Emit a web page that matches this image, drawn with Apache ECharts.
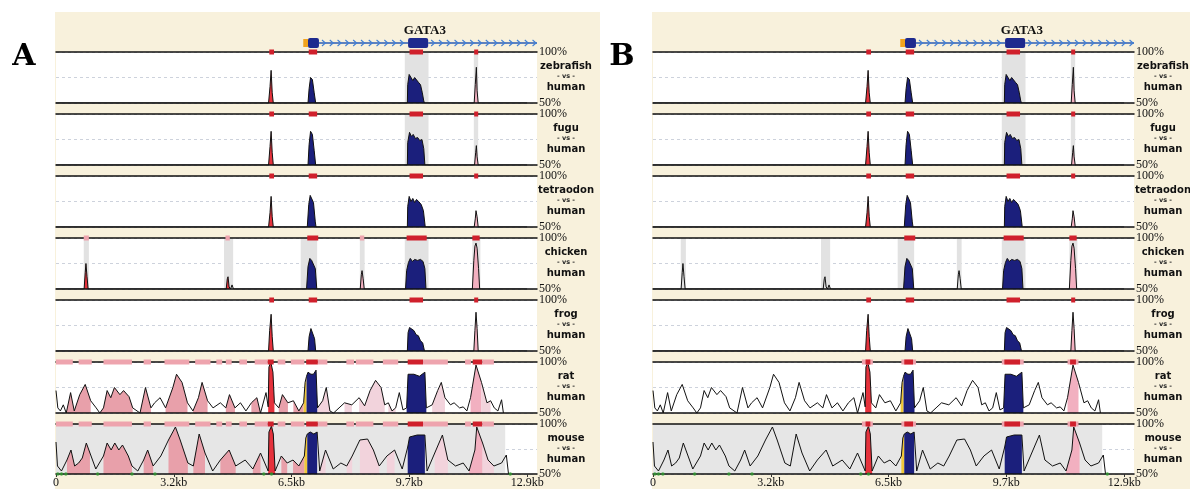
<!DOCTYPE html>
<html>
<head>
<meta charset="utf-8">
<script src="https://cdn.jsdelivr.net/npm/echarts/dist/echarts.min.js"></script>
<style>
html,body{margin:0;padding:0;background:#fff}
#main{width:1190px;height:489px}
</style>
</head>
<body>
<div id="main"></div>
<script>
// x in kb along the human GATA3 locus, y in % identity (50..100)
var KB_MAX = 13.17;
var TICK_KB = [0, 3.225, 6.45, 9.675, 12.9];
var TICK_LABELS = ['0', '3.2kb', '6.5kb', '9.7kb', '12.9kb'];
var SPECIES = ['zebrafish', 'fugu', 'tetraodon', 'chicken', 'frog', 'rat', 'mouse'];
var GENE_NAME = 'GATA3';
var GENE_LABEL_KB = 10.1;
// [from, to, kind] kind: 0 utr, 1 exon, 2 intron
var geneParts = [[6.77, 6.9, 0], [6.9, 7.2, 1], [7.2, 9.64, 2], [9.64, 10.19, 1], [10.19, KB_MAX, 2]];

var zebrafish = [[0,50],[5.82,50],[5.86,66],[5.89,82],[5.92,60],[5.95,50],
  [6.9,50],[6.93,64],[6.97,75],[7.02,73],[7.07,60],[7.11,50],
  [9.62,50],[9.63,68],[9.67,78],[9.72,77],[9.77,72],[9.82,75],[9.87,74],[9.93,70],[9.98,68],[10.03,60],[10.07,52],[10.09,50],
  [11.45,50],[11.48,68],[11.51,85],[11.53,62],[11.56,50],[12.9,50]];
var fugu = [[0,50],[5.82,50],[5.86,68],[5.89,83],[5.92,62],[5.95,50],
  [6.9,50],[6.93,70],[6.97,83],[7.02,80],[7.07,64],[7.11,50],
  [9.62,50],[9.63,72],[9.68,82],[9.73,78],[9.78,80],[9.84,76],[9.9,77],[9.96,74],[10.02,75],[10.07,66],[10.1,50],
  [11.46,50],[11.49,62],[11.51,69],[11.53,58],[11.56,50],[12.9,50]];
var tetraodon = [[0,50],[5.82,50],[5.86,64],[5.89,80],[5.92,60],[5.95,50],
  [6.88,50],[6.92,72],[6.96,81],[7.0,80],[7.05,74],[7.1,55],[7.12,50],
  [9.62,50],[9.63,70],[9.67,80],[9.72,75],[9.77,78],[9.82,74],[9.87,77],[9.93,75],[10.0,72],[10.06,66],[10.11,50],
  [11.45,50],[11.48,58],[11.5,66],[11.53,60],[11.56,50],[12.9,50]];
var chicken = [[0,50],[0.77,50],[0.8,66],[0.82,75],[0.85,62],[0.88,50],
  [4.66,50],[4.69,60],[4.71,62],[4.74,52],[4.78,50],[4.82,54],[4.86,50],
  [6.86,50],[6.9,72],[6.95,80],[7.0,78],[7.05,79],[7.1,70],[7.14,50],
  [8.33,50],[8.36,64],[8.38,68],[8.41,60],[8.44,50],
  [9.57,50],[9.6,68],[9.65,76],[9.7,80],[9.76,77],[9.82,79],[9.9,78],[9.98,79],[10.05,77],[10.1,70],[10.13,50],
  [11.4,50],[11.44,78],[11.47,92],[11.5,95],[11.53,90],[11.57,70],[11.6,50],[12.9,50]];
var frog = [[0,50],[5.82,50],[5.85,70],[5.89,86],[5.92,64],[5.95,50],
  [6.9,50],[6.93,64],[6.98,72],[7.03,73],[7.08,62],[7.11,50],
  [9.62,50],[9.64,68],[9.68,73],[9.73,72],[9.8,70],[9.86,66],[9.92,65],[9.98,60],[10.04,58],[10.09,50],
  [11.44,50],[11.47,70],[11.5,88],[11.53,72],[11.56,50],[12.9,50]];
var rat = [[0,72],[0.05,55],[0.12,52],[0.2,58],[0.28,50],[0.4,70],[0.5,52],[0.65,68],[0.8,78],[0.95,62],
  [1.1,55],[1.2,50],[1.3,55],[1.4,72],[1.5,65],[1.6,75],[1.75,68],[1.85,72],[2.0,66],[2.1,55],[2.3,50],
  [2.45,75],[2.6,55],[2.7,60],[2.85,65],[3.0,55],[3.2,75],[3.3,88],[3.45,80],[3.6,60],[3.75,52],[3.9,65],
  [4.0,80],[4.15,62],[4.3,55],[4.5,60],[4.65,55],[4.75,68],[4.9,55],[5.05,60],[5.2,52],[5.35,60],[5.5,65],
  [5.6,50],[5.75,70],[5.81,56],[5.83,95],[5.88,100],[5.94,90],[5.98,60],[6.1,55],[6.2,68],[6.35,60],
  [6.5,62],[6.65,52],[6.78,60],[6.82,80],[6.86,86],[6.9,90],[6.98,88],[7.05,88],[7.12,92],[7.16,55],
  [7.3,62],[7.4,75],[7.5,52],[7.6,50],[7.75,55],[7.9,60],[8.1,58],[8.3,65],[8.45,57],[8.6,72],[8.75,82],
  [8.9,75],[9.0,58],[9.1,60],[9.2,52],[9.3,55],[9.4,70],[9.5,53],[9.6,55],[9.64,88],[9.8,88],[9.95,86],
  [10.1,90],[10.14,55],[10.3,58],[10.45,72],[10.55,80],[10.65,65],[10.8,58],[10.9,60],[11.05,55],
  [11.15,56],[11.25,52],[11.35,65],[11.5,97],[11.65,80],[11.8,60],[11.9,62],[12.0,55],[12.1,52],
  [12.2,63],[12.25,50]];
var mouse = [[0,82],[0.04,58],[0.15,53],[0.3,64],[0.41,74],[0.51,58],[0.62,61],[0.72,66],[0.83,81],[0.93,71],
  [1.09,55],[1.3,68],[1.4,81],[1.51,74],[1.61,81],[1.72,74],[1.82,79],[1.98,68],[2.08,58],[2.24,53],
  [2.4,64],[2.51,74],[2.66,58],[2.87,68],[3.08,84],[3.27,97],[3.4,84],[3.61,61],[3.76,58],[3.92,90],
  [4.08,71],[4.29,53],[4.5,64],[4.74,74],[4.92,58],[5.18,64],[5.39,55],[5.6,71],[5.81,53],[5.83,92],
  [5.9,98],[5.95,90],[6.0,53],[6.17,68],[6.33,61],[6.49,64],[6.65,58],[6.8,68],[6.84,86],[6.88,90],
  [6.96,92],[7.06,90],[7.15,92],[7.22,53],[7.38,74],[7.59,55],[7.8,61],[7.96,58],[8.11,68],[8.32,84],
  [8.53,85],[8.69,74],[8.85,58],[9.06,68],[9.27,74],[9.48,55],[9.63,77],[9.68,87],[9.89,89],[10.1,89],
  [10.16,53],[10.37,71],[10.58,89],[10.73,64],[10.94,58],[11.15,61],[11.31,53],[11.47,74],[11.52,97],
  [11.68,81],[11.83,64],[11.99,58],[12.2,61],[12.33,69],[12.39,50]];
var mouseDots = [0.05, 0.15, 0.27, 1.14, 2.08, 2.71, 5.69, 5.9, 12.44];

// conserved regions: [kind, fromKb, toKb]
var fishFills = {
  zebrafish: [['red',5.82,5.95],['exon',6.9,7.11],['exon',9.62,10.09],['utr',11.45,11.56]],
  fugu: [['red',5.82,5.95],['exon',6.9,7.11],['exon',9.62,10.1],['utr',11.46,11.56]],
  tetraodon: [['red',5.82,5.95],['exon',6.88,7.12],['exon',9.62,10.11],['utr',11.45,11.56]],
  frog: [['red',5.82,5.95],['exon',6.9,7.11],['exon',9.62,10.09],['utr',11.44,11.56]]
};
var chickenFillsA = [['red',0.77,0.88],['red',4.66,4.78],['exon',6.86,7.14],['utr',8.33,8.44],['exon',9.57,10.13],['utr',11.4,11.6]];
var chickenFillsB = [['exon',6.86,7.14],['exon',9.57,10.13],['utr',11.4,11.6]];
var ratFillsA = [['cns',0.28,0.95],['cns',1.2,2.1],['cns',2.3,2.6],['cns',3.0,3.6],['cns',3.75,4.15],['cns',4.65,4.9],
  ['cns',5.35,5.6],['red',5.81,5.98],['cns',6.1,6.35],['cns',6.5,6.78],['utr5',6.78,6.86],['exon',6.86,7.16],
  ['lt',7.16,7.5],['lt',7.9,8.1],['lt',8.3,9.0],['lt',9.1,9.3],['exon',9.6,10.14],['lt',10.3,10.65],
  ['utr',11.35,11.65],['lt',11.65,11.9]];
var ratFillsB = [['red',5.81,5.98],['utr5',6.78,6.86],['exon',6.86,7.16],['exon',9.6,10.14],['utr',11.35,11.65]];
var mouseFillsA = [['cns',0.3,0.93],['cns',1.3,2.08],['cns',2.4,2.66],['cns',3.08,3.61],['cns',3.76,4.08],['cns',4.5,4.92],
  ['cns',5.39,5.6],['red',5.81,6.0],['cns',6.17,6.33],['cns',6.49,6.8],['utr5',6.8,6.88],['exon',6.88,7.15],
  ['lt',7.22,7.38],['lt',7.96,8.11],['lt',8.32,8.85],['lt',9.06,9.27],['exon',9.63,10.1],['lt',10.37,10.73],
  ['utr',11.31,11.68],['lt',11.68,11.99]];
var mouseFillsB = [['red',5.81,6.0],['utr5',6.8,6.88],['exon',6.88,7.15],['exon',9.63,10.1],['utr',11.31,11.68]];

var fishBoxes = [['red',5.84,5.97],['red',6.92,7.15],['red',9.68,10.05],['red',11.45,11.56]];
var chickenBoxesA = [['pink',0.76,0.9],['pink',4.64,4.76],['red',6.88,7.18],['pink',8.32,8.44],['red',9.6,10.15],['red',11.4,11.6]];
var chickenBoxesB = [['red',6.88,7.18],['red',9.6,10.15],['red',11.4,11.6]];
var mammalBoxesA = [['pink',0,0.46],['pink',0.62,0.98],['pink',1.3,2.08],['pink',2.4,2.6],['pink',2.97,3.65],
  ['pink',3.81,4.23],['pink',4.39,4.55],['pink',4.65,4.81],['pink',5.02,5.23],['pink',5.44,5.8],['red',5.8,5.96],
  ['pink',6.07,6.28],['pink',6.43,6.8],['red',6.85,7.17],['pink',7.17,7.43],['pink',7.95,8.16],['pink',8.21,8.69],
  ['pink',8.95,9.37],['red',9.63,10.05],['pink',10.05,10.73],['pink',11.2,11.36],['red',11.41,11.67],['pink',11.67,11.99]];
var mammalBoxesB = [['pink',5.72,6.02],['red',5.82,5.95],['pink',6.8,7.2],['red',6.88,7.12],
  ['pink',9.55,10.15],['red',9.62,10.05],['pink',11.35,11.65],['red',11.42,11.58]];

var fishBands = [['gray',9.55,10.2],['gray',11.44,11.56]];
var chickenBands = [['gray',0.76,0.9],['gray',4.6,4.85],['gray',6.7,7.15],['gray',8.32,8.45],['gray',9.55,10.2],['gray',11.4,11.62]];
var mouseBands = [['bg',0,12.3]];

var FILL_COLOR = {red:'#e5323c', exon:'#1b1f7c', utr:'#f2b0c0', utr5:'#f0c83a', cns:'#e8a0aa', lt:'#f2d3dc'};
var BOX_COLOR = {red:'#d0202c', pink:'#eea4ae'};
var BAND_COLOR = {gray:'#e2e2e2', bg:'#e6e6e6'};

var panels = [
  {letter:'A', left:56, letterX:24,
    fills:[fishFills.zebrafish, fishFills.fugu, fishFills.tetraodon, chickenFillsA, fishFills.frog, ratFillsA, mouseFillsA],
    boxes:[fishBoxes, fishBoxes, fishBoxes, chickenBoxesA, fishBoxes, mammalBoxesA, mammalBoxesA]},
  {letter:'B', left:653, letterX:622,
    fills:[fishFills.zebrafish, fishFills.fugu, fishFills.tetraodon, chickenFillsB, fishFills.frog, ratFillsB, mouseFillsB],
    boxes:[fishBoxes, fishBoxes, fishBoxes, chickenBoxesB, fishBoxes, mammalBoxesB, mammalBoxesB]}
];
var curves = [zebrafish, fugu, tetraodon, chicken, frog, rat, mouse];
var bands = [fishBands, fishBands, [], chickenBands, [], [], mouseBands];

var PLOT_W = 481, TOP0 = 52, STEP = 62, TRACK_H = 51;
var SERIF = '"Liberation Serif", "DejaVu Serif", serif';

function kbLabel(v) {
  for (var i = 0; i < TICK_KB.length; i++) if (Math.abs(v - TICK_KB[i]) < 1e-6) return TICK_LABELS[i];
  return '';
}
function rectRender(params, api) {
  var a = api.coord([api.value(0), 100]), b = api.coord([api.value(1), 50]);
  return {type:'rect', shape:{x:a[0], y:a[1], width:b[0]-a[0], height:b[1]-a[1]}, style:{fill:api.visual('color')}};
}
function boxRender(params, api) {
  var a = api.coord([api.value(0), 100]), b = api.coord([api.value(1), 100]);
  return {type:'rect', shape:{x:a[0], y:a[1]-2.5, width:Math.max(b[0]-a[0], 3), height:5}, style:{fill:api.visual('color')}};
}
function geneRender(params, api) {
  var a = api.coord([api.value(0), 0.5]), b = api.coord([api.value(1), 0.5]);
  var kind = api.value(2), y = a[1];
  if (kind === 2) {
    var kids = [{type:'line', shape:{x1:a[0], y1:y, x2:b[0], y2:y}, style:{stroke:'#2c5cb4', lineWidth:1.4}}];
    for (var x = a[0] + 5; x < b[0] - 1; x += 7.8) {
      kids.push({type:'polyline', shape:{points:[[x-2, y-3], [x+1.5, y], [x-2, y+3]]}, style:{stroke:'#3f7fd6', lineWidth:1.1, fill:null}});
    }
    return {type:'group', children:kids};
  }
  var h = kind === 0 ? 8 : 10;
  return {type:'rect', shape:{x:a[0], y:y-h/2, width:b[0]-a[0], height:h, r:kind === 1 ? 2 : 0},
    style:{fill:kind === 0 ? '#f2a41e' : '#1e2a8e'}};
}
function items(list, colors) {
  return list.map(function (b) { return {value:[b[1], b[2]], itemStyle:{color:colors[b[0]]}}; });
}

var grids = [], xAxes = [], yAxes = [], series = [], graphic = [];

graphic.push({type:'rect', z:-10, shape:{x:55, y:12, width:545, height:477}, style:{fill:'#f8f1dc'}});
graphic.push({type:'rect', z:-10, shape:{x:652, y:12, width:538, height:477}, style:{fill:'#f8f1dc'}});

panels.forEach(function (pn) {
  graphic.push({type:'text', z:50, x:pn.letterX, y:57, style:{text:pn.letter, font:'bold 30px "DejaVu Serif"', fill:'#000', align:'center', verticalAlign:'middle'}});

  // gene model
  grids.push({left:pn.left, top:33, width:PLOT_W, height:20, show:false});
  var gg = grids.length - 1;
  xAxes.push({gridIndex:gg, type:'value', min:0, max:KB_MAX, show:false});
  yAxes.push({gridIndex:gg, type:'value', min:0, max:1, show:false});
  series.push({type:'custom', xAxisIndex:xAxes.length-1, yAxisIndex:yAxes.length-1, data:geneParts, renderItem:geneRender, silent:true, z:5});
  series.push({type:'custom', xAxisIndex:xAxes.length-1, yAxisIndex:yAxes.length-1, data:[[GENE_LABEL_KB, 0.5]], silent:true, z:5,
    renderItem:function (params, api) {
      var p = api.coord([api.value(0), api.value(1)]);
      return {type:'text', x:p[0], y:p[1]-12, style:{text:GENE_NAME, font:'bold 13px ' + SERIF, fill:'#111', align:'center', verticalAlign:'middle'}};
    }});

  SPECIES.forEach(function (sp, t) {
    var top = TOP0 + STEP * t, isLast = t === SPECIES.length - 1;
    grids.push({left:pn.left, top:top, width:PLOT_W, height:TRACK_H, show:true, backgroundColor:'#fff', borderWidth:0});
    var gi = grids.length - 1;
    xAxes.push({gridIndex:gi, type:'value', min:0, max:KB_MAX, position:'bottom', z:10,
      axisLine:{show:true, onZero:false, lineStyle:{color:'#111', width:1.5}},
      axisTick:{show:isLast, length:3, customValues:TICK_KB, lineStyle:{color:'#333'}},
      axisLabel:{show:isLast, customValues:TICK_KB, formatter:kbLabel, margin:3, fontFamily:SERIF, fontSize:12, color:'#111'},
      splitLine:{show:false}});
    var xi = xAxes.length - 1;
    xAxes.push({gridIndex:gi, type:'value', min:0, max:KB_MAX, position:'top', z:10,
      axisLine:{show:true, onZero:false, lineStyle:{color:'#111', width:1.5}},
      axisTick:{show:false}, axisLabel:{show:false}, splitLine:{show:false}});
    yAxes.push({gridIndex:gi, type:'value', min:50, max:100, interval:25, position:'right',
      axisLine:{show:false}, axisTick:{show:false},
      axisLabel:{margin:2, fontFamily:SERIF, fontSize:12, color:'#111', formatter:function (v) { return v === 75 ? '' : v + '%'; }},
      splitLine:{show:true, lineStyle:{color:'#cdd2dc', type:[3, 3], width:1}}});
    var yi = yAxes.length - 1;
    var curve = curves[t];

    series.push({type:'custom', xAxisIndex:xi, yAxisIndex:yi, data:items(bands[t], BAND_COLOR), renderItem:rectRender, silent:true, z:1});
    pn.fills[t].forEach(function (f) {
      series.push({type:'line', xAxisIndex:xi, yAxisIndex:yi, silent:true, z:2, symbol:'none',
        data:curve.filter(function (p) { return p[0] >= f[1] - 1e-9 && p[0] <= f[2] + 1e-9; }),
        lineStyle:{width:0, opacity:0}, areaStyle:{color:FILL_COLOR[f[0]], opacity:1, origin:'start'}});
    });
    series.push({type:'line', xAxisIndex:xi, yAxisIndex:yi, silent:true, z:3, symbol:'none', data:curve,
      lineStyle:{color:'#111', width:1}});
    series.push({type:'custom', xAxisIndex:xi, yAxisIndex:yi, data:items(pn.boxes[t], BOX_COLOR), renderItem:boxRender, silent:true, z:20});
    if (isLast) {
      series.push({type:'scatter', xAxisIndex:xi, yAxisIndex:yi, silent:true, z:21, clip:false, symbolSize:3.5,
        itemStyle:{color:'#2f9a2f'}, data:mouseDots.map(function (d) { return [d, 50]; })});
    }

    var cx = pn.left + PLOT_W + 29;
    graphic.push({type:'text', z:50, x:cx, y:top + 14, style:{text:sp, font:'bold 10px "DejaVu Sans"', fill:'#111', align:'center', verticalAlign:'middle'}});
    graphic.push({type:'text', z:50, x:cx, y:top + 24.5, style:{text:'- vs -', font:'bold 6.5px "DejaVu Sans"', fill:'#222', align:'center', verticalAlign:'middle'}});
    graphic.push({type:'text', z:50, x:cx, y:top + 35, style:{text:'human', font:'bold 10px "DejaVu Sans"', fill:'#111', align:'center', verticalAlign:'middle'}});
  });
});

var chart = echarts.init(document.getElementById('main'));
chart.setOption({
  animation:false,
  backgroundColor:'#fff',
  grid:grids,
  xAxis:xAxes,
  yAxis:yAxes,
  series:series,
  graphic:graphic
});
</script>
</body>
</html>
